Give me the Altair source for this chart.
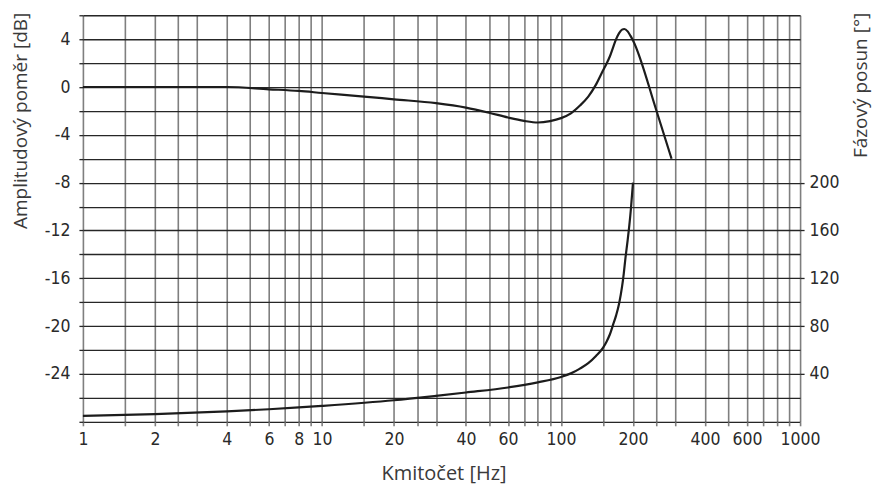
import altair as alt
import pandas as pd

# Amplitude response (dB) vs frequency (Hz)
amp_freq = [1, 2, 4, 6, 8, 10, 15, 20, 30, 40, 50, 60, 70, 80, 90, 100, 110, 120, 130, 140, 150, 155, 160, 165, 170, 175, 180, 184, 190, 195, 200, 250, 290]
amp_db = [0, 0, 0, -0.19, -0.33, -0.5, -0.8, -1.03, -1.35, -1.72, -2.15, -2.55, -2.83, -2.97, -2.85, -2.6, -2.2, -1.55, -0.8, 0.2, 1.4, 1.95, 2.55, 3.3, 4.0, 4.5, 4.8, 4.85, 4.65, 4.3, 3.9, -1.9, -6.0]

# Phase shift (deg) vs frequency (Hz)
ph_freq = [1, 2, 4, 6, 8, 10, 20, 30, 40, 60, 80, 100, 110, 120, 130, 140, 150, 155, 160, 165, 170, 175, 180, 183, 186, 190, 193, 196, 198, 200]
ph_deg = [5, 6.5, 8.7, 10.5, 12, 13.3, 18, 21.7, 24.5, 28.7, 33, 37.5, 40.5, 44.5, 49, 55, 62, 67, 73, 81, 89, 99, 113, 124, 137, 152, 164, 178, 189, 200]

x_grid = [1, 1.5, 2, 2.5, 3, 4, 5, 6, 7, 8, 9,
          10, 15, 20, 25, 30, 40, 50, 60, 70, 80, 90,
          100, 150, 200, 250, 300, 400, 500, 600, 700, 800, 900, 1000]
x_labels = [1, 2, 4, 6, 8, 10, 20, 40, 60, 100, 200, 400, 600, 1000]
y_grid = list(range(-28, 7, 2))
ph_ticks = [40, 80, 120, 160, 200]

amp_df = pd.DataFrame({"f": amp_freq, "v": amp_db})
ph_df = pd.DataFrame({"f": ph_freq, "v": ph_deg})

TICK_FONT = "DejaVu Sans Condensed, Liberation Sans Narrow, Roboto"
TICK_SIZE = 17.5
TITLE_FONT = "Open Sans"

x_enc = alt.X(
    "f:Q",
    scale=alt.Scale(type="log", domain=[1, 1000], nice=False),
    axis=alt.Axis(
        values=x_grid,
        format="d",
        labelExpr="indexof(" + str(x_labels) + ", datum.value) >= 0 ? datum.label : ''",
        title="Kmitočet [Hz]",
        titleFont=TITLE_FONT,
        titleFontSize=20,
        titleFontWeight="normal",
        titleColor="#3a3a3a",
        titleBaseline="alphabetic",
        titleY=58,
        titleX=361,
        labelFont=TICK_FONT,
        labelFontSize=TICK_SIZE,
        labelColor="#2a2a2a",
        labelPadding=5,
        labelOverlap=False,
        labelFlush=False,
        labelBound=False,
        domain=False,
        grid=True,
        gridColor="#7f7f7f",
        gridWidth=1.6,
        tickColor="#7f7f7f",
        tickWidth=1.6,
        tickSize=4,
    ),
)

amp = alt.Chart(amp_df).mark_line(color="#1c1c1c", strokeWidth=2.2, interpolate="monotone").encode(
    x=x_enc,
    y=alt.Y(
        "v:Q",
        scale=alt.Scale(domain=[-28, 6], nice=False, zero=False),
        axis=alt.Axis(
            orient="left",
            values=y_grid,
            labelExpr="(datum.value % 4 == 0 && datum.value >= -24 && datum.value <= 4) ? datum.value : ''",
            title="Amplitudový poměr [dB]",
            titleFont=TITLE_FONT,
            titleFontSize=19,
            titleFontWeight="normal",
            titleColor="#3a3a3a",
            titleAngle=270,
            titleAlign="right",
            titleBaseline="alphabetic",
            titleX=-56,
            titleY=-3,
            labelFont=TICK_FONT,
            labelFontSize=TICK_SIZE,
            labelColor="#2a2a2a",
            labelPadding=9,
            labelOverlap=False,
            labelFlush=False,
            labelBound=False,
            domain=False,
            grid=True,
            gridColor="#262626",
            gridWidth=1.3,
            tickColor="#262626",
            tickWidth=1.3,
            tickSize=4,
        ),
    ),
)

ph = alt.Chart(ph_df).mark_line(color="#1c1c1c", strokeWidth=2.2, interpolate="monotone").encode(
    x=x_enc,
    y=alt.Y(
        "v:Q",
        scale=alt.Scale(domain=[0, 340], nice=False, zero=False),
        axis=alt.Axis(
            orient="right",
            values=ph_ticks,
            title="Fázový posun [°]",
            titleFont=TITLE_FONT,
            titleFontSize=19,
            titleFontWeight="normal",
            titleColor="#3a3a3a",
            titleAngle=270,
            titleAlign="right",
            titleBaseline="alphabetic",
            titleX=66,
            titleY=-3,
            labelFont=TICK_FONT,
            labelFontSize=TICK_SIZE,
            labelColor="#2a2a2a",
            labelPadding=5,
            labelOverlap=False,
            labelFlush=False,
            labelBound=False,
            domain=False,
            grid=False,
            tickColor="#262626",
            tickWidth=1.3,
            tickSize=4,
        ),
    ),
)

chart = (
    alt.layer(amp, ph)
    .resolve_scale(y="independent")
    .properties(
        width=718,
        height=407,
        autosize=alt.AutoSizeParams(type="none"),
        padding={"left": 75, "top": 7, "right": 72, "bottom": 70},
    )
    .configure_view(stroke=None)
    .configure(background="white")
)

chart.save("out.html", embed_options={"renderer": "svg", "actions": False})
